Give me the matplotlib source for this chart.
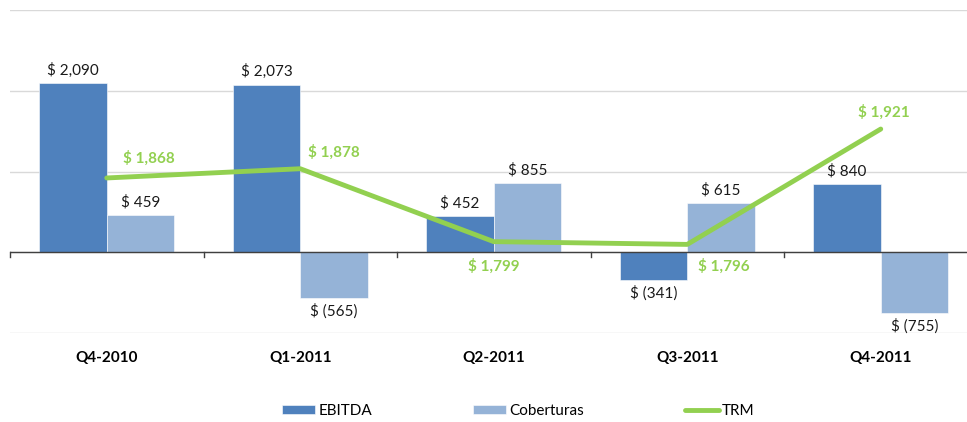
import matplotlib.pyplot as plt
import numpy as np

plt.rcParams['font.family'] = ['Lato', 'DejaVu Sans']

# Datos
trimestres = ['Q4-2010', 'Q1-2011', 'Q2-2011', 'Q3-2011', 'Q4-2011']
ebitda = [2090, 2073, 452, -341, 840]
coberturas = [459, -565, 855, 615, -755]
trm = [1868, 1878, 1799, 1796, 1921]

c_ebitda = '#4F81BD'
c_cob = '#95B3D7'
c_trm = '#92D050'


def fmt(v):
    if v < 0:
        return f'$ ({-v:,})'
    return f'$ {v:,}'


W, H = 967, 422
fig = plt.figure(figsize=(W / 100, H / 100), dpi=100)
ax = fig.add_axes([10 / W, 1 - 333 / H, 967.5 / W, 323 / H])

x = np.arange(len(trimestres))
w = 0.35

b1 = ax.bar(x - w / 2, ebitda, w, color=c_ebitda, edgecolor='white', linewidth=0.4, label='EBITDA', zorder=2)
b2 = ax.bar(x + w / 2, coberturas, w, color=c_cob, edgecolor='white', linewidth=0.4, label='Coberturas', zorder=2)

ax.set_ylim(-1000, 3000)
ax.set_xlim(-0.5, len(trimestres) - 0.5)
ax.set_yticks([-1000, 0, 1000, 2000, 3000])
ax.yaxis.grid(True, color='#D9D9D9', linewidth=1)
ax.set_axisbelow(True)
ax.axhline(0, color='#404040', linewidth=1, zorder=3)
for s in ax.spines.values():
    s.set_visible(False)

# marcas de categoria sobre el eje cero
for t in np.arange(-0.5, len(trimestres), 1.0):
    ax.plot([t, t], [0, -60], color='#404040', linewidth=1, zorder=3, clip_on=False)

# etiquetas de categoria
for i, q in enumerate(trimestres):
    ax.text(i, -1315, q, ha='center', va='center', fontsize=11, fontweight='bold')

# etiquetas de barras
for bars, vals in [(b1, ebitda), (b2, coberturas)]:
    for b, v in zip(bars, vals):
        cx = b.get_x() + b.get_width() / 2
        if v >= 0:
            ax.annotate(fmt(v), (cx, v), xytext=(0, 4), textcoords='offset points',
                        ha='center', va='bottom', fontsize=11, color='#1a1a1a')
        else:
            ax.annotate(fmt(v), (cx, v), xytext=(0, -4), textcoords='offset points',
                        ha='center', va='top', fontsize=11, color='#1a1a1a')

# eje secundario TRM
ax2 = ax.twinx()
ax2.set_ylim(1700, 2050)
ax2.plot(x, trm, color=c_trm, linewidth=3.5, label='TRM', zorder=4, solid_capstyle='round')
ax2.axis('off')

ax.tick_params(axis='y', left=False, right=False, labelleft=False, labelright=False)
ax.tick_params(axis='x', bottom=False, labelbottom=False)

offsets = [(30, 14), (24, 12), (0, -18), (26, -16), (2, 12)]
for xi, v, off in zip(x, trm, offsets):
    ax2.annotate(fmt(v), (xi, v), xytext=off, textcoords='offset points',
                 ha='center', va='center', fontsize=11, fontweight='bold', color=c_trm)

# leyenda
h1, l1 = ax.get_legend_handles_labels()
h2, l2 = ax2.get_legend_handles_labels()
fig.legend(h1 + h2, l1 + l2, loc='center', bbox_to_anchor=(518 / W, 1 - 411 / H),
           ncol=3, frameon=False, fontsize=11, columnspacing=6.6, handlelength=2.2,
           handleheight=0.5, handletextpad=0.2)

fig.savefig('out.png', dpi=100)
